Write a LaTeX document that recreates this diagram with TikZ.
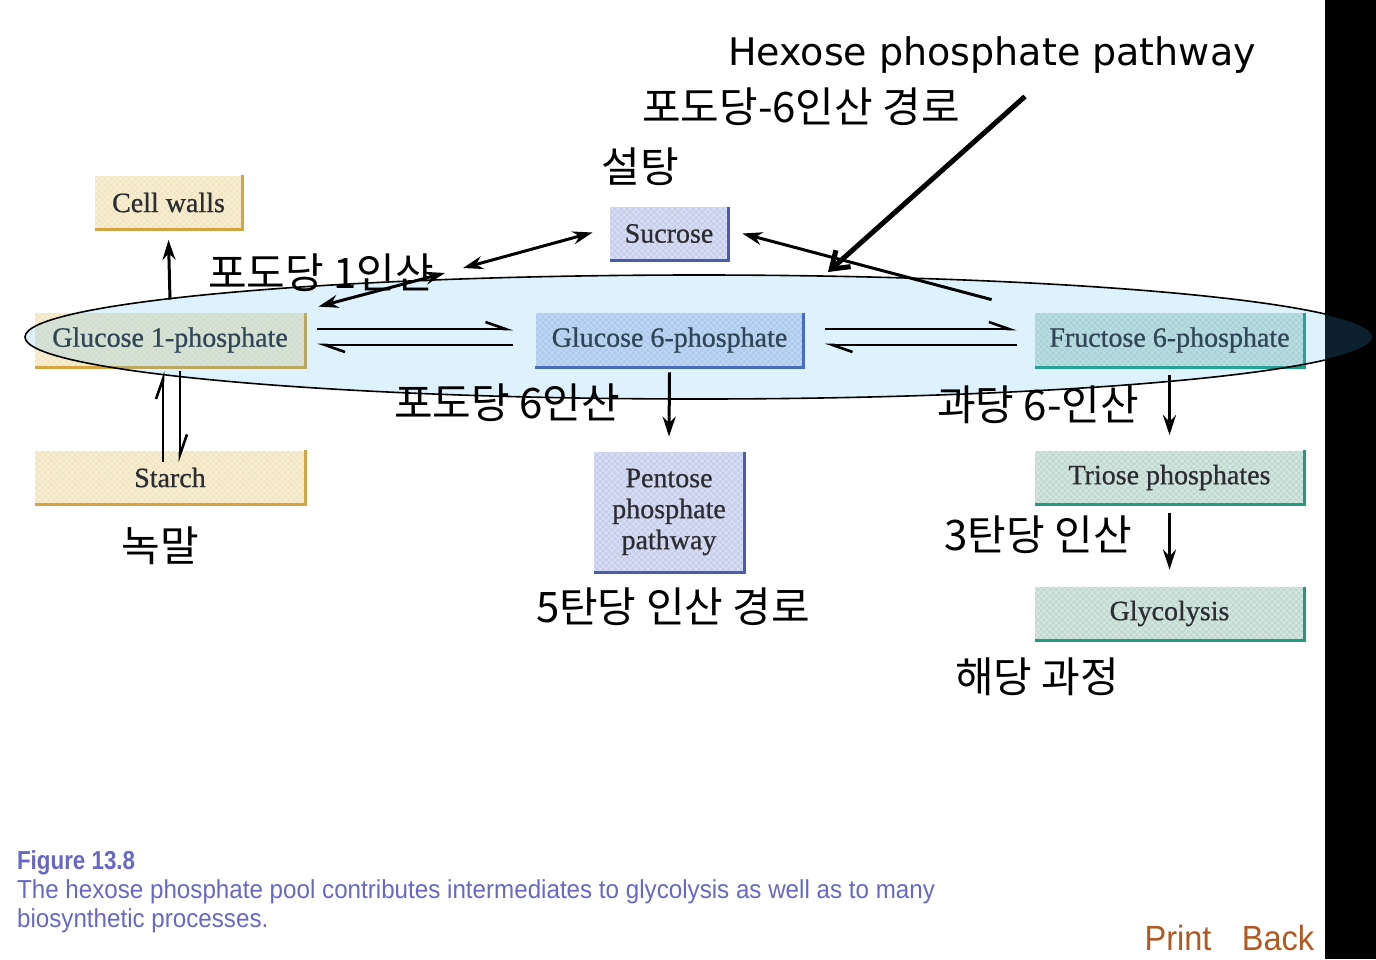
\documentclass[tikz,border=0pt]{standalone}
\usepackage{fontspec}
\setmainfont{Liberation Serif}
\newfontfamily\boxfont[FakeBold=0.7]{Liberation Serif}
\newfontfamily\krfont{Noto Sans CJK KR}
\newfontfamily\hexfont{DejaVu Sans}
\newfontfamily\capfont[FakeStretch=0.93]{Liberation Sans}
\usetikzlibrary{arrows.meta,patterns}
\definecolor{tanfill}{RGB}{242,230,192}
\definecolor{tanline}{RGB}{214,164,64}
\definecolor{bluefill}{RGB}{198,206,236}
\definecolor{blueline}{RGB}{74,92,176}
\definecolor{tealfill}{RGB}{192,218,208}
\definecolor{tealline}{RGB}{32,156,128}
\definecolor{boxtext}{RGB}{44,44,50}
\definecolor{capblue}{RGB}{104,104,196}
\definecolor{printbrown}{RGB}{176,90,34}
\definecolor{poolblue}{RGB}{70,185,250}
\begin{document}
\begin{tikzpicture}[x=0.5pt, y=-0.5pt, >={Stealth[length=10pt,width=6.5pt]},
  box/.style={inner sep=0pt, text=boxtext, font=\boxfont\fontsize{14}{15.5}\selectfont,
    postaction={pattern=crosshatch, pattern color=white, opacity=0.35}},
  tanbox/.style={box, fill=tanfill, minimum width=135pt, minimum height=27pt},
  bluebox/.style={box, fill=bluefill},
  tealbox/.style={box, fill=tealfill, minimum width=134.5pt, minimum height=27pt},
  lab/.style={font=\krfont\fontsize{21}{23}\selectfont},
  arr/.style={line width=1.5pt},
  harp/.style={line width=1.3pt, -{Straight Barb[left,length=10pt,width=7pt]}}]
\useasboundingbox (0,0) rectangle (1376,959);
\fill (1325,0) rectangle (1376,959);

% boxes
\node[tanbox, minimum width=73.5pt] (cw) at (168.5,202.5) {Cell walls};
\node[tanbox] (g1p) at (170,340) {Glucose 1-phosphate};
\node[tanbox] (starch) at (170,477.5) {Starch};
\node[bluebox, minimum width=59pt, minimum height=26.5pt] (suc) at (669,233.5) {Sucrose};
\node[bluebox, minimum width=134pt, minimum height=27pt] (g6p) at (669.5,340) {Glucose 6-phosphate};
\node[bluebox, minimum width=75pt, minimum height=60pt, align=center] (ppp) at (669,512) {Pentose\\phosphate\\pathway};
\node[tealbox] (f6p) at (1169.5,340) {Fructose 6-phosphate};
\node[tealbox] (triose) at (1169.5,477.5) {Triose phosphates};
\node[tealbox, minimum height=26.5pt] (glyc) at (1169.5,613.5) {Glycolysis};
\foreach \n/\c in {cw/tanline, g1p/tanline, starch/tanline, suc/blueline, g6p/blueline, ppp/blueline, f6p/tealline, triose/tealline, glyc/tealline}
{
    \draw[\c, line width=1.5pt] (\n.north east)--(\n.south east)--(\n.south west);
}

% hexose phosphate pool
\draw[line width=0.8pt, fill=poolblue, fill opacity=0.18] (699,337) ellipse [x radius=674, y radius=62];

% arrows
\coordinate (m1) at (463,268);
\coordinate (m2) at (445,273);
\coordinate (hexend) at (828,272);
\draw[arr, ->] ([yshift=6.5pt]g1p.north)--([yshift=-5pt]cw.south);
\draw[harp] ([xshift=-3.5pt,yshift=-6pt]starch.north)--([xshift=-3.5pt,yshift=-2pt]g1p.south);
\draw[harp] ([xshift=5pt,yshift=-2pt]g1p.south)--([xshift=5pt,yshift=-6pt]starch.north);
\draw[harp] ([xshift=6pt,yshift=5.5pt]g1p.east)--([xshift=-11pt,yshift=5.5pt]g6p.west);
\draw[harp] ([xshift=-11pt,yshift=-2.5pt]g6p.west)--([xshift=6pt,yshift=-2.5pt]g1p.east);
\draw[harp] ([xshift=10.5pt,yshift=5.5pt]g6p.east)--([xshift=-9pt,yshift=5.5pt]f6p.west);
\draw[harp] ([xshift=-9pt,yshift=-2.5pt]f6p.west)--([xshift=10.5pt,yshift=-2.5pt]g6p.east);
\draw[arr, <->] (m1)--([xshift=-8.5pt,yshift=0.5pt]suc.west);
\draw[arr, <->] ([xshift=6.5pt,yshift=3pt]g1p.north east)--(m2);
\draw[arr, ->] ([xshift=-21.5pt,yshift=6.5pt]f6p.north west)--([xshift=7pt]suc.east);
\draw[arr, ->] ([yshift=-2.5pt]g6p.south)--([yshift=7.5pt]ppp.north);
\draw[arr, ->] ([yshift=-4pt]f6p.south)--([yshift=7.5pt]triose.north);
\draw[arr, ->] ([yshift=-4pt]triose.south)--([yshift=8.5pt]glyc.north);

% labels
\node[font=\hexfont\fontsize{19}{21}\selectfont] (lhex) at (992,55) {Hexose phosphate pathway};
\draw[line width=2.5pt, -{Straight Barb[length=8pt,width=11pt]}] ([xshift=16.5pt,yshift=-8pt]lhex.south)--(hexend);
\node[lab] (lhpp) at (801,107) {포도당-6인산 경로};
\node[lab] (lsuc) at (640,167) {설탕};
\node[lab] (lg1p) at (321,273) {포도당 1인산};
\node[lab] (lg6p) at (507,403) {포도당 6인산};
\node[lab] (lf6p) at (1038,405) {과당 6-인산};
\node[lab] (lstarch) at (160,546) {녹말};
\node[lab] (lppp) at (673,607) {5탄당 인산 경로};
\node[lab] (ltriose) at (1038,535) {3탄당 인산};
\node[lab] (lglyc) at (1037,677) {해당 과정};

% caption
\node[anchor=west, align=left, text=capblue, font=\capfont\fontsize{13}{14.5}\selectfont] (cap) at (10,892)
  {{\addfontfeature{FakeStretch=0.86}\bfseries Figure 13.8}\\The hexose phosphate pool contributes intermediates to glycolysis as well as to many\\biosynthetic processes.};
\node[text=printbrown, font=\capfont\fontsize{17.5}{20}\selectfont] (print) at (1178,938) {Print};
\node[text=printbrown, font=\capfont\fontsize{17.5}{20}\selectfont] (back) at (1278,938) {Back};
\end{tikzpicture}
\end{document}
